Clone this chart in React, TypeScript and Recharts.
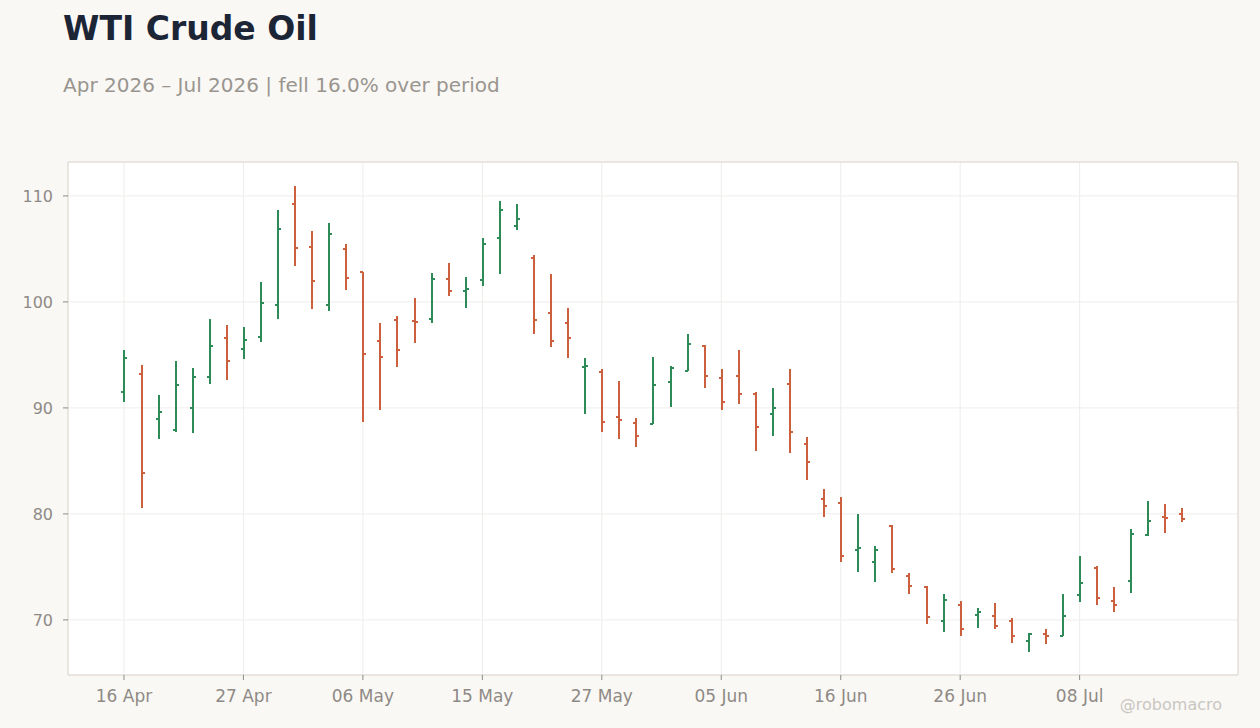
import { ComposedChart, Bar, XAxis, YAxis, CartesianGrid, ReferenceArea } from 'recharts'

// trading days shown on the chart (US holidays skipped)
const dates = [
  '16 Apr', '17 Apr', '20 Apr', '21 Apr', '22 Apr', '23 Apr', '24 Apr', '27 Apr', '28 Apr', '29 Apr',
  '30 Apr', '01 May', '04 May', '05 May', '06 May', '07 May', '08 May', '11 May', '12 May', '13 May',
  '14 May', '15 May', '18 May', '19 May', '20 May', '21 May', '22 May', '26 May', '27 May', '28 May',
  '29 May', '01 Jun', '02 Jun', '03 Jun', '04 Jun', '05 Jun', '08 Jun', '09 Jun', '10 Jun', '11 Jun',
  '12 Jun', '15 Jun', '16 Jun', '17 Jun', '18 Jun', '22 Jun', '23 Jun', '24 Jun', '25 Jun', '26 Jun',
  '29 Jun', '30 Jun', '01 Jul', '02 Jul', '06 Jul', '07 Jul', '08 Jul', '09 Jul', '10 Jul', '13 Jul',
  '14 Jul', '15 Jul', '16 Jul',
]

const opens = [
  91.54, 93.24, 88.99, 87.96, 90.03, 92.96, 96.64, 95.6, 96.73, 99.75,
  109.2, 105.22, 99.75, 105.03, 102.8, 96.35, 98.33, 98.24, 98.43, 102.2,
  101.07, 102.1, 106.07, 107.2, 104.18, 99.0, 98.05, 93.85, 93.4, 89.18,
  88.62, 88.52, 92.48, 93.49, 95.82, 92.86, 93.05, 91.35, 89.47, 92.29,
  86.63, 81.45, 81.07, 76.63, 75.5, 78.9, 74.18, 73.14, 69.93, 71.44,
  70.5, 70.4, 69.93, 68.05, 68.71, 68.52, 72.39, 74.94, 71.82, 73.71,
  78.05, 79.75, 80.03,
]

const highs = [
  95.47, 94.06, 91.23, 94.43, 93.77, 98.4, 97.83, 97.64, 101.89, 108.68,
  110.97, 106.7, 107.45, 105.47, 102.8, 98.02, 98.68, 100.38, 102.74, 103.68,
  102.36, 106.04, 109.53, 109.25, 104.43, 102.64, 99.43, 94.72, 93.65, 92.55,
  89.06, 94.81, 93.96, 96.98, 95.94, 93.68, 95.47, 91.51, 91.89, 93.68,
  87.26, 82.36, 81.6, 80.0, 76.98, 78.96, 74.43, 73.18, 72.45, 71.79,
  71.13, 71.6, 70.19, 68.74, 69.15, 72.45, 76.04, 75.06, 73.11, 78.58,
  81.23, 80.94, 80.57,
]

const lows = [
  90.6, 80.6, 87.04, 87.77, 87.67, 92.3, 92.67, 94.65, 96.26, 98.43,
  103.43, 99.37, 99.18, 101.16, 88.71, 89.84, 93.9, 96.16, 98.05, 100.6,
  99.46, 101.54, 102.67, 106.82, 97.01, 95.79, 94.75, 89.47, 87.77, 87.1,
  86.35, 88.49, 90.12, 93.45, 91.92, 89.78, 90.41, 85.97, 87.39, 85.78,
  83.24, 79.75, 75.5, 74.56, 73.61, 74.46, 72.48, 69.65, 68.9, 68.52,
  69.27, 69.18, 67.86, 67.01, 67.77, 68.52, 71.73, 71.44, 70.78, 72.58,
  77.89, 78.24, 79.22,
]

const closes = [
  94.75, 83.9, 89.65, 92.2, 92.96, 95.88, 94.47, 96.44, 99.93, 106.92,
  105.12, 102.01, 106.44, 102.3, 95.12, 94.84, 95.5, 98.14, 102.2, 101.07,
  101.26, 105.5, 108.71, 107.86, 98.33, 96.35, 96.64, 93.95, 88.71, 88.9,
  87.39, 92.2, 93.8, 96.07, 93.05, 90.6, 91.35, 88.24, 90.03, 87.77,
  84.93, 80.78, 76.07, 76.82, 76.63, 74.84, 73.24, 70.31, 71.92, 69.18,
  70.78, 69.46, 68.52, 68.71, 68.52, 70.41, 73.52, 72.1, 71.44, 78.14,
  79.37, 79.62, 79.56,
]

const xTicks = [0, 7, 14, 21, 28, 35, 42, 49, 56]
const yTicks = [70, 80, 90, 100, 110]

const UP = '#2e8b57'
const DOWN = '#cc5f3e'
const X_DOMAIN = [-3.28, 65.28]
const Y_DOMAIN = [64.8, 113.2]
const FONT = '"DejaVu Sans", sans-serif'

const data = dates.map((d, i) => ({
  i,
  date: d,
  open: opens[i],
  high: highs[i],
  low: lows[i],
  close: closes[i],
  range: [lows[i], highs[i]],
}))

// OHLC glyph: vertical high-low line, open tick left, close tick right
function OhlcShape(props: any) {
  const { x, y, width, height, payload } = props
  const { open, high, low, close } = payload
  const cx = Math.round(x + width / 2)
  const span = high - low || 1
  const toY = (v: number) => y + ((high - v) / span) * height
  const color = close >= open ? UP : DOWN
  const oy = toY(open)
  const cy = toY(close)
  return (
    <g stroke={color} strokeWidth={2} shapeRendering="crispEdges">
      <line x1={cx} x2={cx} y1={y} y2={y + height} />
      <line x1={cx - 3} x2={cx} y1={oy} y2={oy} />
      <line x1={cx} x2={cx + 3} y1={cy} y2={cy} />
    </g>
  )
}

export default function App() {
  return (
    <div style={{ position: 'relative', width: 1260, height: 728, background: '#f9f8f5', fontFamily: FONT }}>
      <style>{'body{margin:0}'}</style>
      <div style={{ position: 'absolute', left: 63, top: 12, fontSize: 33, lineHeight: '33px', fontWeight: 700, color: '#1c2536' }}>
        WTI Crude Oil
      </div>
      <div style={{ position: 'absolute', left: 63, top: 75, fontSize: 20, lineHeight: '20px', color: '#9a958f' }}>
        Apr 2026 – Jul 2026 | fell 16.0% over period
      </div>
      <ComposedChart
        width={1260}
        height={728}
        data={data}
        margin={{ top: 162, right: 22, bottom: 23, left: 0 }}
      >
        <CartesianGrid stroke="#efedeb" fill="#ffffff" />
        <XAxis
          dataKey="i"
          type="number"
          domain={X_DOMAIN}
          allowDataOverflow
          ticks={xTicks}
          tickFormatter={(v: number) => dates[v]}
          axisLine={false}
          tickLine={{ stroke: '#8f8a85' }}
          tickSize={5}
          tickMargin={10}
          height={30}
          tick={{ fill: '#8f8a85', fontSize: 17, fontFamily: FONT }}
        />
        <YAxis
          type="number"
          domain={Y_DOMAIN}
          allowDataOverflow
          ticks={yTicks}
          axisLine={false}
          tickLine={{ stroke: '#8f8a85' }}
          tickSize={5}
          tickMargin={10}
          width={68}
          tick={{ fill: '#8f8a85', fontSize: 16, fontFamily: FONT }}
        />
        <ReferenceArea
          x1={X_DOMAIN[0]}
          x2={X_DOMAIN[1]}
          y1={Y_DOMAIN[0]}
          y2={Y_DOMAIN[1]}
          fill="none"
          stroke="#ddd6cd"
          strokeWidth={1}
          ifOverflow="visible"
        />
        <Bar dataKey="range" barSize={6} shape={OhlcShape} isAnimationActive={false} />
      </ComposedChart>
      <div style={{ position: 'absolute', right: 38, top: 697, fontSize: 16, lineHeight: '16px', color: '#cac6c1' }}>
        @robomacro
      </div>
    </div>
  )
}
